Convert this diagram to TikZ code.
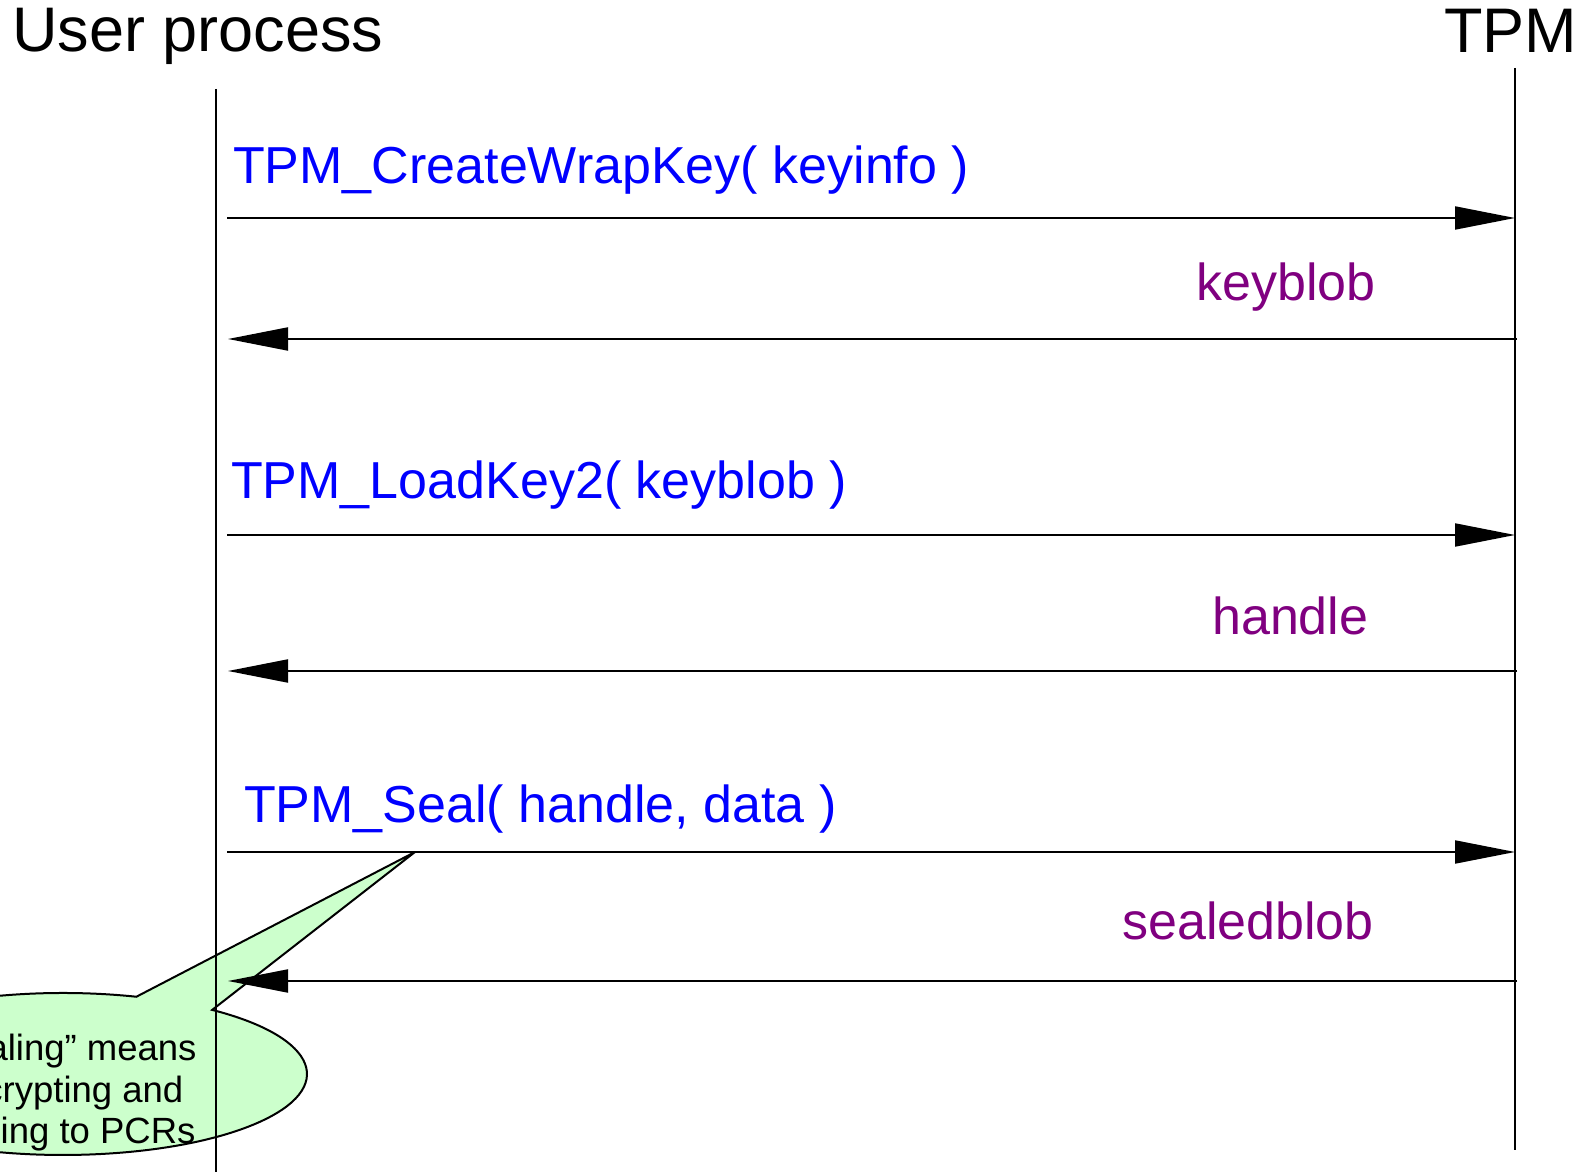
\documentclass[tikz,border=0pt]{standalone}
\usepackage{fontspec}
\setmainfont{Liberation Sans}
\usetikzlibrary{arrows.meta}
\definecolor{callblue}{RGB}{0,0,255}
\definecolor{replypurple}{RGB}{128,0,128}
\definecolor{notegreen}{RGB}{204,255,204}

\begin{document}
\begin{tikzpicture}[x=1pt,y=1pt,
  lifeline/.style={line width=2pt},
  msg/.style={line width=2pt, -{Triangle[length=60pt,width=23pt]}},
  heading/.style={inner sep=0pt, anchor=base west, font=\fontsize{63}{75}\selectfont},
  calllabel/.style={inner sep=0pt, anchor=base west, text=callblue, font=\fontsize{52}{62}\selectfont},
  replylabel/.style={inner sep=0pt, anchor=base west, text=replypurple, font=\fontsize{52}{62}\selectfont},
  notetext/.style={inner sep=0pt, anchor=base, font=\fontsize{36.5}{44}\selectfont},
  notebubble/.style={fill=notegreen, draw=black, line width=2pt, line join=miter}
]
\clip (0,0) rectangle (1580,1171);

% lifeline ends
\coordinate (user-top) at (216,1082);
\coordinate (user-bot) at (216,-5);
\coordinate (tpm-top)  at (1515,1103);
\coordinate (tpm-bot)  at (1515,21);

% message end points
\coordinate (m1a) at (227,953);  \coordinate (m1b) at (1515,953);
\coordinate (m2a) at (1517,832); \coordinate (m2b) at (228,832);
\coordinate (m3a) at (227,636);  \coordinate (m3b) at (1515,636);
\coordinate (m4a) at (1517,500); \coordinate (m4b) at (228,500);
\coordinate (m5a) at (227,319);  \coordinate (m5b) at (1515,319);
\coordinate (m6a) at (1517,190); \coordinate (m6b) at (228,190);
\coordinate (seal-point) at (415,319);

% callout bubble pointing at the TPM_Seal call
\path[notebubble] (212.2,161.1)
  arc[start angle=52.3, end angle=-287.5, x radius=244pt, y radius=81pt]
  -- (seal-point) -- cycle;
\node[notetext] (note1) at (63.6,111) {“Sealing” means};
\node[notetext] (note2) at (63.6,69)  {encrypting and};
\node[notetext] (note3) at (63.6,28)  {binding to PCRs};

% lifelines
\draw[lifeline] (user-top) -- (user-bot);
\draw[lifeline] (tpm-top) -- (tpm-bot);

% headings
\node[heading] (user) at (12,1119) {User process};
\node[heading] (tpm) at (1444,1118) {TPM};

% messages
\draw[msg] (m1a) -- (m1b);
\draw[msg] (m2a) -- (m2b);
\draw[msg] (m3a) -- (m3b);
\draw[msg] (m4a) -- (m4b);
\draw[msg] (m5a) -- (m5b);
\draw[msg] (m6a) -- (m6b);

% message labels
\node[calllabel]  (l1) at (233,987)  {TPM\_CreateWrapKey( keyinfo )};
\node[replylabel] (l2) at (1196,870) {keyblob};
\node[calllabel]  (l3) at (231,672)  {TPM\_LoadKey2( keyblob )};
\node[replylabel] (l4) at (1212,536) {handle};
\node[calllabel]  (l5) at (244,348)  {TPM\_Seal( handle, data )};
\node[replylabel] (l6) at (1122,232) {sealedblob};
\end{tikzpicture}
\end{document}
